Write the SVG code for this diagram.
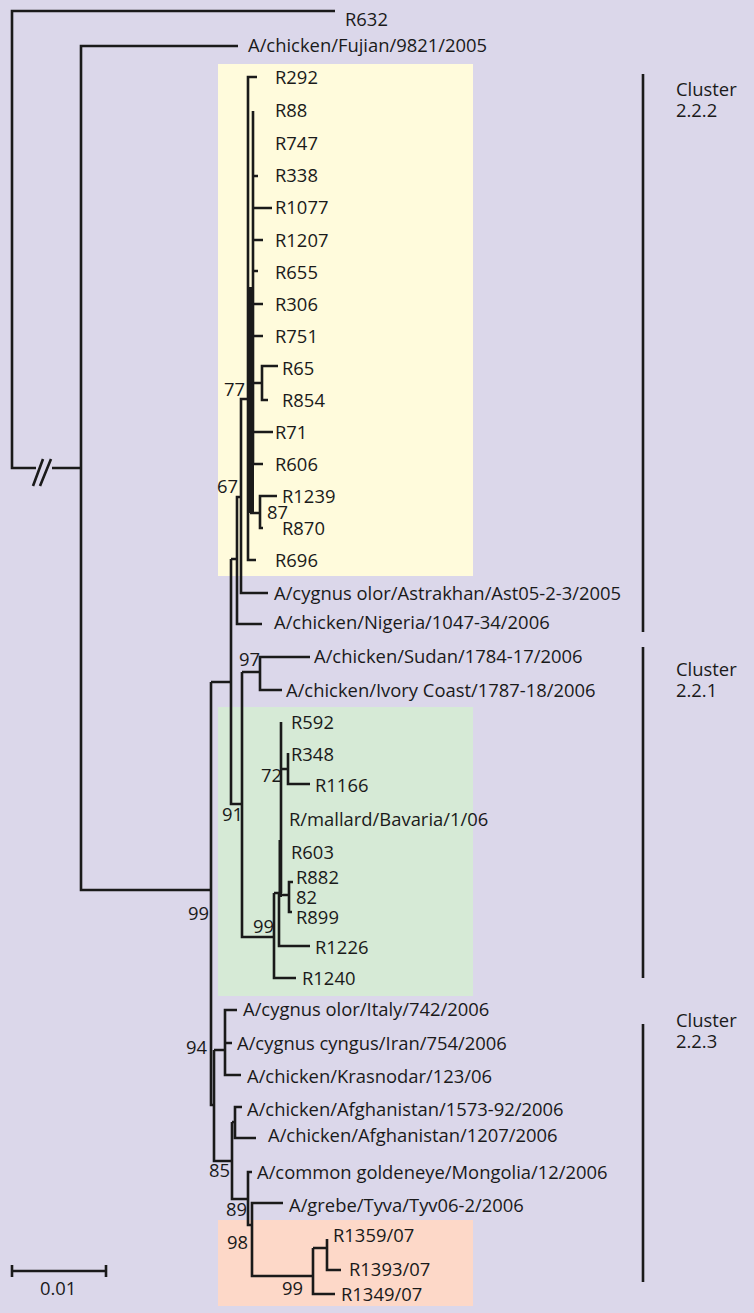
<svg xmlns="http://www.w3.org/2000/svg" width="754" height="1313" viewBox="0 0 754 1313">
<style>
.l{fill:none;stroke:#1a1a1a;stroke-width:2.6;stroke-linecap:butt}
text{font-family:"Open Sans","Noto Sans","Liberation Sans",sans-serif;font-size:18.4px;fill:#1a1a1a}
</style>
<rect width="754" height="1313" fill="#dbd7ea"/>
<rect id="box-222" x="218" y="64" width="255" height="512" fill="#fffbdc"/>
<rect id="box-221" x="218" y="707" width="255" height="289" fill="#d6ead6"/>
<rect id="box-223" x="218" y="1220" width="255" height="86" fill="#fdd8c8"/>
<g id="connectors" class="l">
<path d="M335,11H12V468H36M52,468H81M238,46H81V890H211"/>
<path d="M33,486L43,459M40,486L51,459"/>
<path d="M211,682V1105H214M231,682H211"/>
<path d="M231,559V804H242M237,559H231"/>
<path d="M241,497H237V624H262M268,593H241V399H248"/>
<path d="M257,77H248V560H256"/>
<path d="M253,111V464M253,176H258M253,208H272M253,240H263M253,271H258M253,304H263M253,336H263M253,432H273M253,464H263"/>
<path d="M253,383H262M278,366H262V400H268"/>
<path d="M250,513H260M277,496H260V528H263"/>
<path d="M242,672V937H274M260,672H242M310,657H260V690H282"/>
<path d="M274,893V978H296M274,893H279V946H310"/>
<path d="M281,722V893M281,769H288M288,753V784H310"/>
<path d="M279,895H289M293,882H289V912H292"/>
<path d="M214,1050V1161H232M214,1050H225M237,1010H225V1075H241M225,1043H232"/>
<path d="M232,1122V1199H248M232,1122H235M242,1107H235V1138H256"/>
<path d="M252,1172H248V1225H252M283,1203H252V1276H313"/>
<path d="M313,1248V1294H335M313,1248H327M327,1239V1270H341"/>
<path d="M643,74V632M643,647V978M643,1024V1282"/>
<path d="M12,1271H106M12,1265V1277M106,1265V1277"/>
</g>
<rect x="247.5" y="287" width="6.5" height="226" fill="#1a1a1a"/>
<rect x="278.5" y="840" width="3.5" height="57" fill="#1a1a1a"/>
<g id="labels">
<text x="345" y="26">R632</text>
<text x="248" y="52">A/chicken/Fujian/9821/2005</text>
<text x="275" y="84">R292</text>
<text x="275" y="117">R88</text>
<text x="275" y="150">R747</text>
<text x="275" y="182">R338</text>
<text x="275" y="214">R1077</text>
<text x="275" y="247">R1207</text>
<text x="275" y="279">R655</text>
<text x="275" y="311">R306</text>
<text x="275" y="343">R751</text>
<text x="282" y="375">R65</text>
<text x="282" y="407">R854</text>
<text x="275" y="439">R71</text>
<text x="275" y="471">R606</text>
<text x="282" y="503">R1239</text>
<text x="282" y="535">R870</text>
<text x="275" y="567">R696</text>
<text x="274" y="600">A/cygnus olor/Astrakhan/Ast05-2-3/2005</text>
<text x="274" y="629">A/chicken/Nigeria/1047-34/2006</text>
<text x="314" y="663">A/chicken/Sudan/1784-17/2006</text>
<text x="286" y="697">A/chicken/Ivory Coast/1787-18/2006</text>
<text x="291" y="729">R592</text>
<text x="291" y="761">R348</text>
<text x="315" y="792">R1166</text>
<text x="289" y="826">R/mallard/Bavaria/1/06</text>
<text x="291" y="859">R603</text>
<text x="296" y="884">R882</text>
<text x="296" y="904">82</text>
<text x="296" y="924">R899</text>
<text x="315" y="954">R1226</text>
<text x="302" y="985">R1240</text>
<text x="243" y="1016">A/cygnus olor/Italy/742/2006</text>
<text x="237" y="1050">A/cygnus cyngus/Iran/754/2006</text>
<text x="247" y="1083">A/chicken/Krasnodar/123/06</text>
<text x="247" y="1116">A/chicken/Afghanistan/1573-92/2006</text>
<text x="268" y="1142">A/chicken/Afghanistan/1207/2006</text>
<text x="257" y="1179">A/common goldeneye/Mongolia/12/2006</text>
<text x="289" y="1212">A/grebe/Tyva/Tyv06-2/2006</text>
<text x="333" y="1242">R1359/07</text>
<text x="349" y="1276">R1393/07</text>
<text x="341" y="1301">R1349/07</text>
<text x="224" y="396">77</text>
<text x="217" y="493">67</text>
<text x="267" y="519">87</text>
<text x="239" y="666">97</text>
<text x="261" y="782">72</text>
<text x="222" y="821">91</text>
<text x="253" y="933">99</text>
<text x="188" y="920">99</text>
<text x="186" y="1054">94</text>
<text x="209" y="1177">85</text>
<text x="226" y="1216">89</text>
<text x="227" y="1249">98</text>
<text x="282" y="1295">99</text>
<text x="40" y="1295">0.01</text>
<text x="676" y="96">Cluster</text>
<text x="676" y="117">2.2.2</text>
<text x="676" y="676">Cluster</text>
<text x="676" y="697">2.2.1</text>
<text x="676" y="1027">Cluster</text>
<text x="676" y="1048">2.2.3</text>
</g>
</svg>
